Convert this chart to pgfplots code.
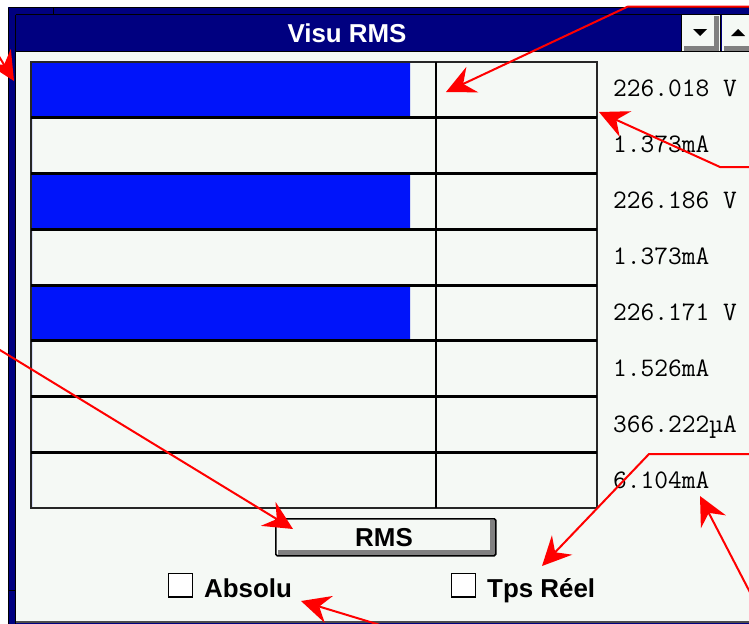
\documentclass[border=0pt]{standalone}
\usepackage{fontspec}
\setmainfont{Liberation Sans}
\usepackage{pgfplots}
\pgfplotsset{compat=1.18}
\usetikzlibrary{arrows.meta}
\definecolor{navy}{RGB}{0,0,128}
\definecolor{winbg}{RGB}{245,249,245}
\definecolor{barblue}{RGB}{0,20,250}
\definecolor{shadowgray}{RGB}{128,128,128}
\definecolor{annot}{RGB}{255,0,0}
\pgfplotsset{pix/.style={scale only axis, width=749bp, height=624bp,
  ymin=0, ymax=624, y dir=reverse, hide axis, clip=true,
  anchor=north west, at={(0,0)}}}
\newcommand{\sysfont}{\fontsize{26}{30}\selectfont\bfseries}
\newcommand{\valfont}{\ttfamily\fontsize{26.8}{30}\selectfont}
\tikzset{arr/.style={annot, line width=2bp, -{Stealth[length=29bp,width=28bp,inset=10bp]}}}
\begin{document}
\begin{tikzpicture}
% ---------- background layer: window, title bar, widgets, texts
\begin{axis}[pix, name=bg, xmin=0, xmax=749]
\fill[white] (axis cs:0,0) rectangle (axis cs:749,624);
\fill[navy] (axis cs:8,7) rectangle (axis cs:760,630);
\draw[black, line width=1bp] (axis cs:8.5,7.5) -- (axis cs:760,7.5);
\draw[black, line width=1bp] (axis cs:8.5,7.5) -- (axis cs:8.5,630);
\draw[black, line width=1bp] (axis cs:15.5,14.5) -- (axis cs:760,14.5);
\draw[black, line width=1bp] (axis cs:15.5,14.5) -- (axis cs:15.5,630);
\draw[black, line width=1bp] (axis cs:53.5,7) -- (axis cs:53.5,14);
\draw[black, line width=1bp] (axis cs:8,590.5) -- (axis cs:15,590.5);
% client area
\fill[winbg] (axis cs:16,52) rectangle (axis cs:760,621);
\draw[black!70, line width=1.5bp] (axis cs:16,621.75) -- (axis cs:760,621.75);
\draw[black, line width=1.5bp] (axis cs:15,51.25) -- (axis cs:760,51.25);
% title
\node[text=white, font=\sysfont, inner sep=0pt] at (axis cs:347,33.5) {Visu RMS};
% scroll buttons
\draw[black, line width=1bp] (axis cs:681.5,14) -- (axis cs:681.5,51);
\fill[winbg] (axis cs:682,15) rectangle (axis cs:720,50.5);
\fill[shadowgray] (axis cs:714,16) rectangle (axis cs:719,50.5);
\fill[shadowgray] (axis cs:684,46) rectangle (axis cs:719,50.5);
\draw[black, line width=1.5bp] (axis cs:720.5,14) -- (axis cs:720.5,51);
\fill[winbg] (axis cs:722,15) rectangle (axis cs:760,50.5);
\fill[shadowgray] (axis cs:724,46) rectangle (axis cs:760,50.5);
\fill[black] (axis cs:693,29) -- (axis cs:707,29) -- (axis cs:700,36) -- cycle;
\fill[black] (axis cs:731,36) -- (axis cs:745,36) -- (axis cs:738,29) -- cycle;
% RMS button
\fill[winbg] (axis cs:275,518) rectangle (axis cs:496,556);
\fill[shadowgray] (axis cs:490,520) rectangle (axis cs:495,555);
\fill[shadowgray] (axis cs:278,550) rectangle (axis cs:495,555);
\draw[black, line width=1.5bp, rounded corners=1.5bp] (axis cs:275.75,518.75) rectangle (axis cs:495.75,555.75);
\node[font=\sysfont, inner sep=0pt] at (axis cs:384,537.5) {RMS};
% check boxes
\fill[white] (axis cs:168.5,573.5) rectangle (axis cs:192.5,597);
\draw[black, line width=1.5bp] (axis cs:168.5,573.5) rectangle (axis cs:192.5,597);
\node[font=\sysfont, anchor=base west, inner sep=0pt] at (axis cs:204,597) {Absolu};
\fill[white] (axis cs:451.5,573.5) rectangle (axis cs:475.5,597);
\draw[black, line width=1.5bp] (axis cs:451.5,573.5) rectangle (axis cs:475.5,597);
\node[font=\sysfont, anchor=base west, inner sep=0pt] at (axis cs:487,597) {Tps Réel};
% value readouts
\node[font=\valfont, anchor=base west, inner sep=0pt] at (axis cs:613,96.5)  {226.018 V};
\node[font=\valfont, anchor=base west, inner sep=0pt] at (axis cs:613,152.5) {1.373mA};
\node[font=\valfont, anchor=base west, inner sep=0pt] at (axis cs:613,208.5) {226.186 V};
\node[font=\valfont, anchor=base west, inner sep=0pt] at (axis cs:613,264.5) {1.373mA};
\node[font=\valfont, anchor=base west, inner sep=0pt] at (axis cs:613,320)   {226.171 V};
\node[font=\valfont, anchor=base west, inner sep=0pt] at (axis cs:613,376)   {1.526mA};
\node[font=\valfont, anchor=base west, inner sep=0pt] at (axis cs:613,432)   {366.222µA};
\node[font=\valfont, anchor=base west, inner sep=0pt] at (axis cs:613,488)   {6.104mA};
\end{axis}
% ---------- bar layer: gauge bars (x = pixel - 32, so bars start at the gauge's left edge)
\begin{axis}[pix, name=bars, xmin=-32, xmax=717]
\addplot[xbar, bar width=55.75, fill=barblue, draw=none] coordinates {
  (378,89.875) (0,145.625) (378,201.375) (0,257.125)
  (378,312.875) (0,368.625) (0,424.375) (0,480.125)};
\end{axis}
% ---------- foreground layer: grid of the gauge and annotation arrows
\begin{axis}[pix, name=fg, xmin=0, xmax=749]
\draw[black!85, line width=2bp] (axis cs:31,62) rectangle (axis cs:597,508);
\draw[black, line width=3bp] (axis cs:31,117.75) -- (axis cs:597,117.75);
\draw[black, line width=3bp] (axis cs:31,173.5) -- (axis cs:597,173.5);
\draw[black, line width=3bp] (axis cs:31,229.25) -- (axis cs:597,229.25);
\draw[black, line width=3bp] (axis cs:31,285) -- (axis cs:597,285);
\draw[black, line width=3bp] (axis cs:31,340.75) -- (axis cs:597,340.75);
\draw[black, line width=3bp] (axis cs:31,396.5) -- (axis cs:597,396.5);
\draw[black, line width=3bp] (axis cs:31,452.25) -- (axis cs:597,452.25);
\draw[black, line width=2bp] (axis cs:435.5,62) -- (axis cs:435.5,508);
\draw[arr] (axis cs:760,6.5) -- (axis cs:628,6.5) -- (axis cs:446,92);
\draw[arr] (axis cs:-8,45) -- (axis cs:14,81);
\draw[arr] (axis cs:760,167) -- (axis cs:720,167) -- (axis cs:599,112);
\draw[arr] (axis cs:-5,347) -- (axis cs:293,529);
\draw[arr] (axis cs:760,454) -- (axis cs:649,454) -- (axis cs:542,566);
\draw[arr] (axis cs:755,602) -- (axis cs:700,496);
\draw[arr] (axis cs:390,628) -- (axis cs:301,601);
\end{axis}
\pgfresetboundingbox
\path[use as bounding box] (bg.south west) rectangle (bg.north east);
\end{tikzpicture}
\end{document}
